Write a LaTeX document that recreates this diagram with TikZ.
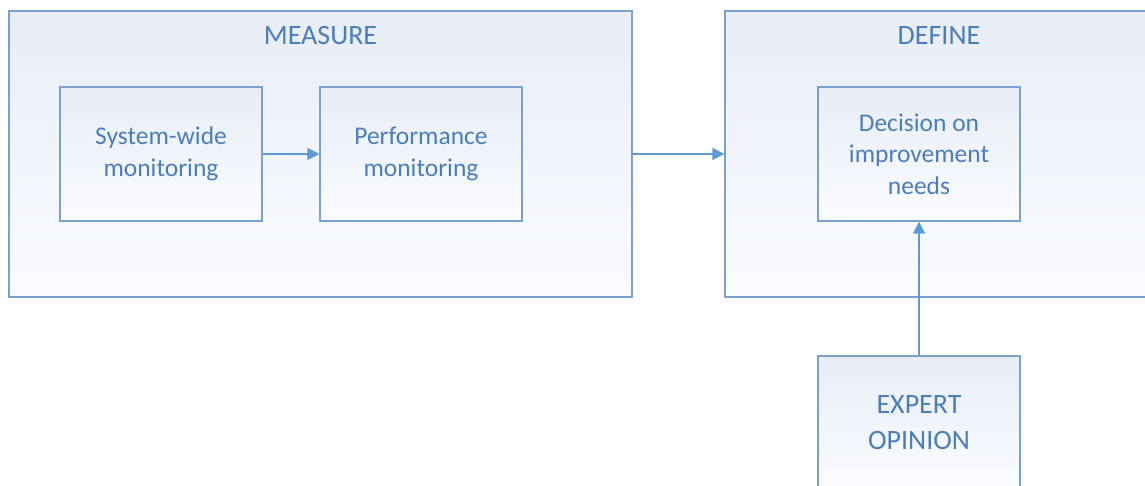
\documentclass[tikz,border=0pt]{standalone}
\usepackage{fontspec}
\setmainfont{Carlito}
\usetikzlibrary{arrows.meta}
\definecolor{txt}{RGB}{74,126,187}
\definecolor{brd}{RGB}{122,160,205}
\definecolor{arr}{RGB}{91,155,213}
\definecolor{topc}{RGB}{232,237,246}
\definecolor{botc}{RGB}{250,252,255}
\begin{document}
\begin{tikzpicture}[x=1pt,y=-1pt,
  box/.style={draw=brd, line width=1.4pt, top color=topc, bottom color=botc, inner sep=0pt, text=txt, align=center},
  inbox/.style={box, minimum width=202pt, minimum height=134pt, font=\fontsize{25.5}{31.5}\selectfont},
  titletext/.style={text=txt, inner sep=0pt, font=\fontsize{28}{36}\selectfont},
  conn/.style={draw=arr, line width=1.8pt, -{Triangle[length=12pt,width=12pt]}}]
\clip (0,0) rectangle (1145,486);
\node[box, minimum width=623pt, minimum height=286pt] (measure) at (320.5,154) {};
\node[box, minimum width=428pt, minimum height=286pt] (define) at (939,154) {};
\node[titletext] (mtitle) at (320.5,36) {MEASURE};
\node[titletext] (dtitle) at (939,36) {DEFINE};
\node[inbox] (sys) at (161,154) {System-wide\\monitoring};
\node[inbox] (perf) at (421,154) {Performance\\monitoring};
\node[inbox] (decision) at (919,154) {Decision on\\improvement\\needs};
\node[inbox, font=\fontsize{28}{36}\selectfont] (expert) at (919,423) {EXPERT\\OPINION};
\draw[conn] (sys.east) -- (perf.west);
\draw[conn] (measure.east) -- (define.west);
\draw[conn] (expert.north) -- (decision.south);
\end{tikzpicture}
\end{document}
